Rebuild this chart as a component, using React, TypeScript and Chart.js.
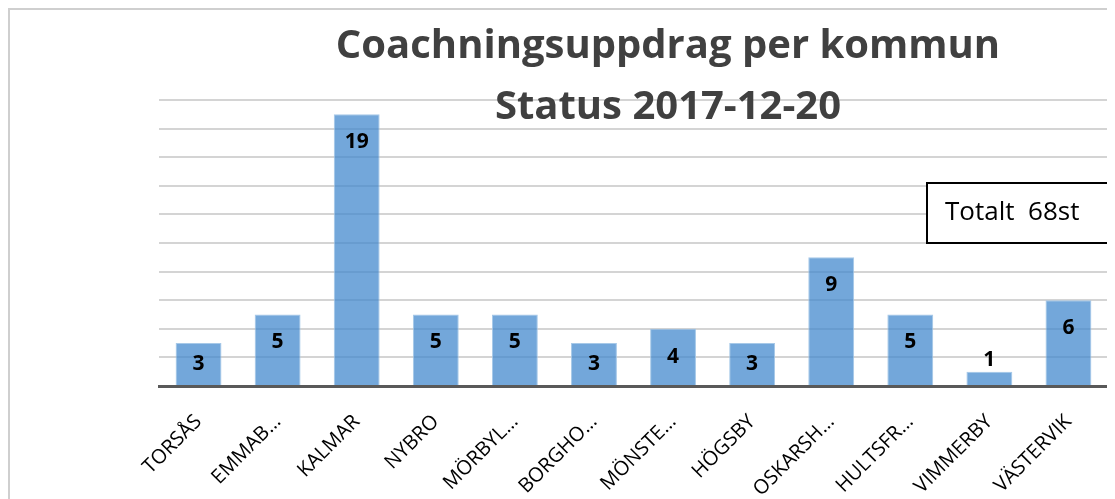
import React, { useEffect, useRef } from "react";
import { Chart, registerables } from "chart.js";

Chart.register(...registerables);

const categories = ["TORSÅS", "EMMAB…", "KALMAR", "NYBRO", "MÖRBYL…", "BORGHO…", "MÖNSTE…", "HÖGSBY", "OSKARSH…", "HULTSFR…", "VIMMERBY", "VÄSTERVIK"];
const values = [3, 5, 19, 5, 5, 3, 4, 3, 9, 5, 1, 6];
const titleLines = ["Coachningsuppdrag per kommun", "Status 2017-12-20"];
const totalText = "Totalt  68st";

const labelPlugin = {
  id: "valueLabels",
  afterDatasetsDraw(chart: any) {
    const ctx = chart.ctx;
    const meta = chart.getDatasetMeta(0);
    ctx.save();
    ctx.font = "bold 21px 'Open Sans', sans-serif";
    ctx.fillStyle = "#000000";
    ctx.textAlign = "center";
    ctx.textBaseline = "middle";
    meta.data.forEach((bar: any, i: number) => {
      const top = bar.y;
      const base = bar.base;
      const h = base - top;
      let y;
      if (h < 25) y = top - 12;
      else y = Math.min(top + 28, (top + base) / 2);
      ctx.fillText(String(values[i]), bar.x, y);
    });
    ctx.restore();
  },
};

const overlayPlugin = {
  id: "overlay",
  afterDraw(chart: any) {
    const ctx = chart.ctx;
    ctx.save();
    ctx.fillStyle = "#404040";
    ctx.textAlign = "center";
    ctx.textBaseline = "middle";
    ctx.font = "bold 40px 'Open Sans', sans-serif";
    ctx.fillText(titleLines[0], 658, 37);
    ctx.fillText(titleLines[1], 658, 98);
    // total box
    ctx.fillStyle = "#ffffff";
    ctx.fillRect(917, 173, 200, 60);
    ctx.strokeStyle = "#000000";
    ctx.lineWidth = 2;
    ctx.strokeRect(917, 173, 200, 60);
    ctx.fillStyle = "#000000";
    ctx.textAlign = "left";
    ctx.font = "26px 'Open Sans', sans-serif";
    ctx.fillText(totalText, 935, 203);
    ctx.restore();
  },
};

export default function App() {
  const ref = useRef<HTMLCanvasElement>(null);
  useEffect(() => {
    document.body.style.overflow = "hidden";
    const chart = new Chart(ref.current!, {
      type: "bar",
      data: {
        labels: categories,
        datasets: [
          {
            data: values,
            backgroundColor: "rgba(68,138,206,0.75)",
            borderColor: "rgba(157,195,230,0.9)",
            borderWidth: 1,
            barPercentage: 0.58,
            categoryPercentage: 1,
          },
        ],
      },
      options: {
        animation: false,
        responsive: false,
        layout: { padding: { left: 149, right: 7, top: 90, bottom: 0 } },
        plugins: { legend: { display: false }, tooltip: { enabled: false }, title: { display: false } },
        scales: {
          x: {
            grid: { display: false },
            border: { display: true, color: "#595959", width: 3 },
            ticks: {
              color: "#000000",
              font: { family: "'Open Sans', sans-serif", size: 20 },
              minRotation: 45,
              maxRotation: 45,
              autoSkip: false,
              padding: 16,
            },
            afterFit(scale: any) {
              scale.height = 113;
            },
          },
          y: {
            min: 0,
            max: 20,
            ticks: { display: false, stepSize: 2 },
            grid: { color: "#d4d4d4", lineWidth: 2, drawTicks: false },
            border: { display: false },
            afterFit(scale: any) {
              scale.width = 0;
            },
          },
        },
      },
      plugins: [labelPlugin, overlayPlugin],
    });
    return () => chart.destroy();
  }, []);
  return (
    <div
      style={{
        position: "relative",
        width: 1107,
        height: 491,
        borderTop: "2px solid #cfcfcf",
        borderLeft: "2px solid #cfcfcf",
        boxSizing: "border-box",
        background: "#ffffff",
      }}
    >
      <canvas ref={ref} width={1105} height={489} style={{ display: "block" }} />
    </div>
  );
}
